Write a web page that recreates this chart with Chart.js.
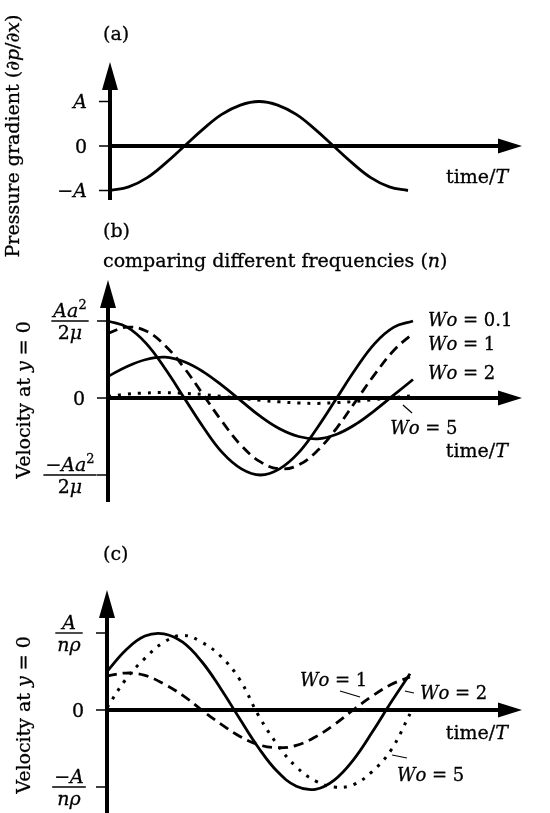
<!DOCTYPE html>
<html>
<head>
<meta charset="utf-8">
<script src="https://cdn.jsdelivr.net/npm/chart.js@4.4.0/dist/chart.umd.min.js"></script>
<style>
  html, body { margin: 0; padding: 0; background: #fff; }
  body { width: 550px; height: 813px; position: relative; overflow: hidden; }
  canvas { position: absolute; left: 0; }
</style>
</head>
<body>
<canvas id="chartA" width="550" height="280" style="top:0px"></canvas>
<canvas id="chartB" width="550" height="300" style="top:215px"></canvas>
<canvas id="chartC" width="550" height="298" style="top:515px"></canvas>
<script>
// time/T, one period sampled every 1/16
var timeSteps = [0, 0.0625, 0.125, 0.1875, 0.25, 0.3125, 0.375, 0.4375, 0.5,
                 0.5625, 0.625, 0.6875, 0.75, 0.8125, 0.875, 0.9375, 1];

// (a) pressure gradient, in units of A
var pressureGradient = [-1, -0.92, -0.71, -0.38, 0, 0.38, 0.71, 0.92, 1,
                        0.92, 0.71, 0.38, 0, -0.38, -0.71, -0.92, -1];

// (b) velocity at y = 0, in units of Aa^2/2mu
var velB_wo01 = [1, 0.92, 0.71, 0.38, 0, -0.38, -0.71, -0.92, -1,
                 -0.92, -0.71, -0.38, 0, 0.38, 0.71, 0.92, 1];
var velB_wo1 = [0.84, 0.92, 0.87, 0.68, 0.39, 0.04, -0.31, -0.62, -0.83,
                -0.92, -0.87, -0.68, -0.39, -0.04, 0.31, 0.62, 0.84];
var velB_wo2 = [0.28, 0.41, 0.50, 0.53, 0.47, 0.34, 0.16, -0.04, -0.24,
                -0.40, -0.50, -0.53, -0.47, -0.34, -0.16, 0.04, 0.24];
var velB_wo5 = [0.02, 0.05, 0.065, 0.07, 0.06, 0.045, 0.02, -0.005, -0.03,
                -0.05, -0.065, -0.07, -0.06, -0.045, -0.02, 0.005, 0.03];

// (c) velocity at y = 0, in units of A/n rho
var velC_wo1 = [0.44, 0.48, 0.45, 0.34, 0.19, 0.0, -0.18, -0.34, -0.45,
                -0.49, -0.46, -0.35, -0.19, 0.0, 0.18, 0.33, 0.43];
var velC_wo2 = [0.50, 0.78, 0.96, 0.99, 0.88, 0.63, 0.28, -0.11, -0.49,
                -0.80, -0.99, -1.03, -0.91, -0.65, -0.29, 0.10, 0.47];
var velC_wo5 = [0.03, 0.40, 0.67, 0.88, 0.97, 0.88, 0.70, 0.40, -0.07,
                -0.45, -0.74, -0.92, -1.0, -0.97, -0.80, -0.52, -0.05];

// tick values and their labels (rich text parts: r = roman, i = italic, s = superscript)
var ticksA = [1, 0, -1];
var tickLabelsA = [[['A', 'i']], [['0', 'r']], [['\u2212', 'r'], ['A', 'i']]];
var ticksB = [1, 0, -1];
var tickLabelsB = [
  { num: [['Aa', 'i'], ['2', 's']], den: [['2', 'r'], ['\u03bc', 'i']] },
  [['0', 'r']],
  { num: [['\u2212', 'r'], ['Aa', 'i'], ['2', 's']], den: [['2', 'r'], ['\u03bc', 'i']] }
];
var ticksC = [1, 0, -1];
var tickLabelsC = [
  { num: [['A', 'i']], den: [['n\u03c1', 'i']] },
  [['0', 'r']],
  { num: [['\u2212', 'r'], ['A', 'i']], den: [['n\u03c1', 'i']] }
];

var FONT = '"DejaVu Serif", "Liberation Serif", serif';
var SIZE = 19;

function fontFor(style, size) {
  if (style === 'i') return 'italic ' + size + 'px ' + FONT;
  if (style === 's') return Math.round(size * 0.7) + 'px ' + FONT;
  return size + 'px ' + FONT;
}

function richWidth(ctx, parts, size) {
  var w = 0;
  parts.forEach(function (p) { ctx.font = fontFor(p[1], size); w += ctx.measureText(p[0]).width; });
  return w;
}

// y is the text baseline
function drawRichBase(ctx, parts, x, y, align, size) {
  size = size || SIZE;
  var w = richWidth(ctx, parts, size);
  var cx = align === 'right' ? x - w : (align === 'center' ? x - w / 2 : x);
  ctx.textBaseline = 'alphabetic';
  ctx.textAlign = 'left';
  ctx.lineWidth = 0.3;
  parts.forEach(function (p) {
    var yy = p[1] === 's' ? y - size * 0.4 : y;
    ctx.font = fontFor(p[1], size);
    ctx.fillText(p[0], cx, yy);
    ctx.strokeText(p[0], cx, yy);
    cx += ctx.measureText(p[0]).width;
  });
}

// y is the vertical middle of the text
function drawRich(ctx, parts, x, y, align, size) {
  size = size || SIZE;
  drawRichBase(ctx, parts, x, y + size * 0.36, align, size);
}

function drawFraction(ctx, lab, cx, y) {
  var w = Math.max(richWidth(ctx, lab.num, SIZE), richWidth(ctx, lab.den, SIZE)) + 4;
  drawRichBase(ctx, lab.num, cx, y - 4, 'center');
  drawRichBase(ctx, lab.den, cx, y + 18, 'center');
  ctx.lineWidth = 1.4;
  ctx.beginPath();
  ctx.moveTo(cx - w / 2, y);
  ctx.lineTo(cx + w / 2, y);
  ctx.stroke();
}

function figurePlugin(spec) {
  return {
    id: 'figure',
    afterDatasetsDraw: function (chart) {
      var ctx = chart.ctx, xs = chart.scales.x, ys = chart.scales.y, a = chart.chartArea;
      var x0 = xs.getPixelForValue(0), y0 = ys.getPixelForValue(0);
      ctx.save();
      ctx.fillStyle = '#000';
      ctx.strokeStyle = '#000';

      // axes with arrow heads
      ctx.lineWidth = 4;
      ctx.lineCap = 'butt';
      ctx.beginPath(); ctx.moveTo(x0, a.bottom); ctx.lineTo(x0, a.top + 20); ctx.stroke();
      ctx.beginPath(); ctx.moveTo(x0, a.top); ctx.lineTo(x0 - 8, a.top + 28); ctx.lineTo(x0 + 8, a.top + 28); ctx.closePath(); ctx.fill();
      ctx.beginPath(); ctx.moveTo(x0 - 2, y0); ctx.lineTo(a.right - 20, y0); ctx.stroke();
      ctx.beginPath(); ctx.moveTo(a.right, y0); ctx.lineTo(a.right - 24, y0 - 7.5); ctx.lineTo(a.right - 24, y0 + 7.5); ctx.closePath(); ctx.fill();

      // ticks and tick labels
      spec.ticks.forEach(function (v, i) {
        var y = ys.getPixelForValue(v);
        ctx.lineWidth = 1.5;
        ctx.beginPath(); ctx.moveTo(x0 - 11, y); ctx.lineTo(x0, y); ctx.stroke();
        var lab = spec.tickLabels[i];
        if (lab.num) drawFraction(ctx, lab, x0 - 38, y);
        else drawRich(ctx, lab, x0 - 23, y, 'right');
      });

      // panel titles (canvas pixels)
      spec.titles.forEach(function (t) { drawRich(ctx, t.parts, t.x, t.y, 'left'); });

      // rotated y title
      ctx.save();
      ctx.translate(spec.yTitle.x, spec.yTitle.y);
      ctx.rotate(-Math.PI / 2);
      drawRich(ctx, spec.yTitle.parts, 0, 0, 'center');
      ctx.restore();

      // notes and leader lines, placed in data units
      spec.notes.forEach(function (n) {
        drawRich(ctx, n.parts, xs.getPixelForValue(n.x), ys.getPixelForValue(n.y), n.align || 'left', n.size);
      });
      ctx.lineWidth = 1.2;
      spec.leaders.forEach(function (l) {
        ctx.beginPath();
        ctx.moveTo(xs.getPixelForValue(l[0]), ys.getPixelForValue(l[1]));
        ctx.lineTo(xs.getPixelForValue(l[2]), ys.getPixelForValue(l[3]));
        ctx.stroke();
      });
      ctx.restore();
    }
  };
}

function series(values) {
  return timeSteps.map(function (t, i) { return { x: t, y: values[i] }; });
}

function curve(values, dash, width) {
  return {
    data: series(values),
    borderColor: '#000',
    borderWidth: width || 2.8,
    borderDash: dash || [],
    borderCapStyle: 'butt',
    fill: false,
    pointRadius: 0,
    tension: 0.4
  };
}

function options(pad, xMax, yMin, yMax) {
  return {
    responsive: false,
    animation: false,
    devicePixelRatio: 1,
    layout: { padding: pad },
    plugins: { legend: { display: false }, tooltip: { enabled: false } },
    scales: {
      x: { type: 'linear', min: 0, max: xMax, display: false },
      y: { type: 'linear', min: yMin, max: yMax, display: false }
    }
  };
}

var WO = [['W', 'i'], ['o', 'i']];
var timeT = [['time/', 'r'], ['T', 'i']];
var velTitle = [['Velocity at ', 'r'], ['y', 'i'], [' = 0', 'r']];

// (a)
new Chart(document.getElementById('chartA'), {
  type: 'line',
  data: { datasets: [curve(pressureGradient)] },
  options: options({ left: 110, right: 28, top: 62, bottom: 80 }, 412 / 298, -54 / 44.5, 84 / 44.5),
  plugins: [figurePlugin({
    ticks: ticksA,
    tickLabels: tickLabelsA,
    titles: [{ parts: [['(a)', 'r']], x: 103, y: 33 }],
    yTitle: { parts: [['Pressure gradient (', 'r'], ['\u2202p', 'i'], ['/', 'r'], ['\u2202x', 'i'], [')', 'r']], x: 12, y: 136 },
    notes: [{ parts: timeT, x: 1.336, y: -0.674, align: 'right' }],
    leaders: []
  })]
});

// (b)
new Chart(document.getElementById('chartB'), {
  type: 'line',
  data: {
    datasets: [
      curve(velB_wo01),
      curve(velB_wo1, [10, 6]),
      curve(velB_wo2),
      curve(velB_wo5, [3, 7], 3)
    ]
  },
  options: options({ left: 108, right: 28, top: 65, bottom: 13 }, 414 / 305, -104 / 77, 118 / 77),
  plugins: [figurePlugin({
    ticks: ticksB,
    tickLabels: tickLabelsB,
    titles: [
      { parts: [['(b)', 'r']], x: 103, y: 15 },
      { parts: [['comparing different frequencies (', 'r'], ['n', 'i'], [')', 'r']], x: 103, y: 45 }
    ],
    yTitle: { parts: velTitle, x: 23, y: 185 },
    notes: [
      { parts: WO.concat([[' = 0.1', 'r']]), x: 1.049, y: 1.013, size: 18 },
      { parts: WO.concat([[' = 1', 'r']]), x: 1.049, y: 0.714, size: 18 },
      { parts: WO.concat([[' = 2', 'r']]), x: 1.049, y: 0.325, size: 18 },
      { parts: WO.concat([[' = 5', 'r']]), x: 0.925, y: -0.377, size: 18 },
      { parts: timeT, x: 1.311, y: -0.675, align: 'right' }
    ],
    leaders: [[0.967, -0.091, 0.997, -0.195]]
  })]
});

// (c)
new Chart(document.getElementById('chartC'), {
  type: 'line',
  data: {
    datasets: [
      curve(velC_wo2),
      curve(velC_wo1, [10, 6]),
      curve(velC_wo5, [3, 7], 3)
    ]
  },
  options: options({ left: 107, right: 28, top: 75, bottom: 0 }, 415 / 303, -103 / 77, 120 / 77),
  plugins: [figurePlugin({
    ticks: ticksC,
    tickLabels: tickLabelsC,
    titles: [{ parts: [['(c)', 'r']], x: 103, y: 38 }],
    yTitle: { parts: velTitle, x: 23, y: 200 },
    notes: [
      { parts: WO.concat([[' = 1', 'r']]), x: 0.637, y: 0.39, size: 18 },
      { parts: WO.concat([[' = 2', 'r']]), x: 1.033, y: 0.221, size: 18 },
      { parts: timeT, x: 1.323, y: -0.286, align: 'right' },
      { parts: WO.concat([[' = 5', 'r']]), x: 0.957, y: -0.844, size: 18 }
    ],
    leaders: [
      [0.769, 0.247, 0.835, 0.169],
      [0.983, 0.247, 1.013, 0.221],
      [0.941, -0.584, 0.990, -0.623]
    ]
  })]
});
</script>
</body>
</html>
